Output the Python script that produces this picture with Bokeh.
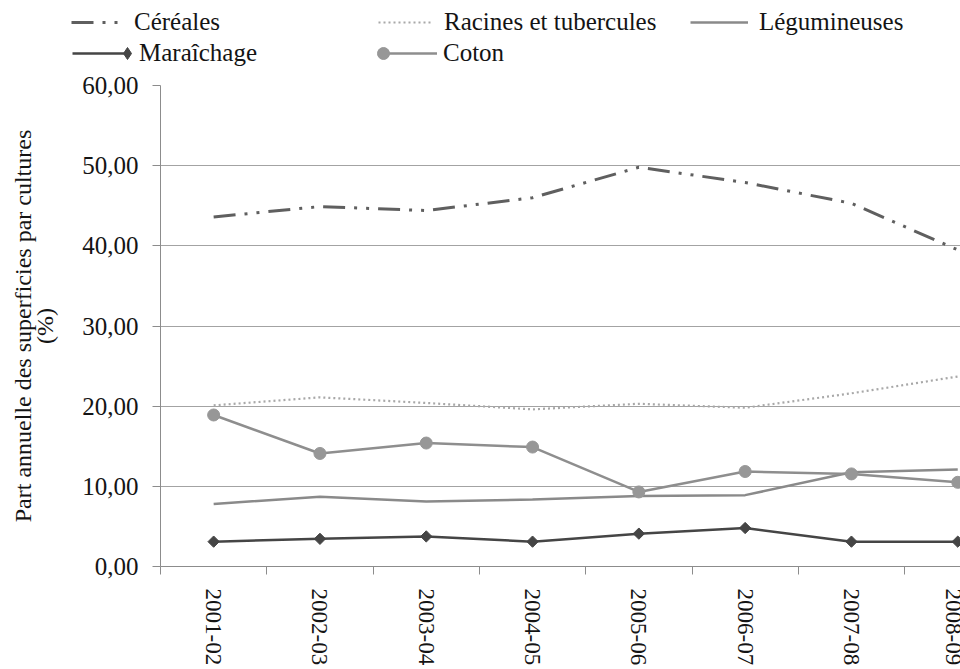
import math
from bokeh.plotting import figure
from bokeh.layouts import column, row
from bokeh.models import Range1d, FixedTicker, Legend, LegendItem
from bokeh.embed import file_html
from bokeh.resources import INLINE

# ---------------- data ----------------
campagnes = ["2001-02", "2002-03", "2003-04", "2004-05",
             "2005-06", "2006-07", "2007-08", "2008-09"]
cereales = [43.6, 44.9, 44.4, 46.0, 49.8, 47.9, 45.3, 39.5]
racines = [20.1, 21.1, 20.4, 19.6, 20.3, 19.8, 21.6, 23.7]
legumineuses = [7.8, 8.7, 8.1, 8.35, 8.8, 8.9, 11.75, 12.1]
maraichage = [3.1, 3.45, 3.75, 3.1, 4.1, 4.8, 3.1, 3.1]
coton = [18.9, 14.1, 15.4, 14.9, 9.3, 11.85, 11.55, 10.5]
y_ticks = [0, 10, 20, 30, 40, 50, 60]
y_tick_labels = ["0,00", "10,00", "20,00", "30,00", "40,00", "50,00", "60,00"]
y_title = "Part annuelle des superficies par cultures\n(%)"

FONT = "Liberation Serif"
TXT = "#141414"
W = 960
LEG_H = 70            # legend strip on top
H = 669 - LEG_H       # main chart
FRAME_L, FRAME_T, FRAME_B = 160, 15, 566 - LEG_H

c_cer, c_rac, c_leg, c_mar, c_cot = "#5f5f5f", "#a8a8a8", "#8a8a8a", "#454545", "#8e8e8e"
c_cot_m = "#979797"
st_cer = dict(line_color=c_cer, line_width=3, line_dash="22 9 3 9 3 9")
st_rac = dict(line_color=c_rac, line_width=2.2, line_dash="2 3")
st_leg = dict(line_color=c_leg, line_width=2.5)
st_mar = dict(line_color=c_mar, line_width=2.5)
st_cot = dict(line_color=c_cot, line_width=2.5)
st_cot_m = dict(marker="circle", size=12, fill_color=c_cot_m, line_color=c_cot_m)

n = len(campagnes)
xc = [i + 0.5 for i in range(n)]
cat_px = 106.3
x_end = (W - FRAME_L) / cat_px

# ---------------- main chart ----------------
p = figure(width=W, height=H, title=None,
           x_range=Range1d(0, x_end), y_range=Range1d(0, 60),
           output_backend="svg", toolbar_location=None,
           min_border_left=FRAME_L, min_border_top=FRAME_T,
           min_border_right=0, min_border_bottom=H - FRAME_B)
p.outline_line_color = None

p.xgrid.visible = False
p.ygrid.ticker = FixedTicker(ticks=y_ticks)
p.ygrid.grid_line_color = "#a3a3a3"
p.ygrid.grid_line_width = 1

yax = p.yaxis[0]
yax.ticker = FixedTicker(ticks=y_ticks)
yax.major_label_overrides = {t: l for t, l in zip(y_ticks, y_tick_labels)}
yax.axis_line_color = "#8c8c8c"
yax.major_tick_line_color = "#8c8c8c"
yax.major_tick_out = 8
yax.major_tick_in = 0
yax.minor_tick_line_color = None
yax.major_label_text_font = FONT
yax.major_label_text_font_size = "25px"
yax.major_label_text_color = TXT
yax.major_label_standoff = 14
yax.axis_label = y_title
yax.axis_label_text_font = FONT
yax.axis_label_text_font_size = "24px"
yax.axis_label_text_font_style = "normal"
yax.axis_label_text_color = TXT
yax.axis_label_text_line_height = 0.85
yax.axis_label_standoff = 21

xax = p.xaxis[0]
xax.ticker = FixedTicker(ticks=xc, minor_ticks=list(range(n)))
xax.major_label_overrides = {x: c for x, c in zip(xc, campagnes)}
xax.axis_line_color = "#8c8c8c"
xax.major_tick_line_color = None
xax.major_tick_out = 0
xax.major_tick_in = 0
xax.minor_tick_line_color = "#8c8c8c"
xax.minor_tick_out = 8
xax.minor_tick_in = 0
xax.major_label_orientation = "vertical"
xax.major_label_text_font = FONT
xax.major_label_text_font_size = "23px"
xax.major_label_text_color = TXT
xax.major_label_standoff = 14

p.line(xc, cereales, **st_cer)
p.line(xc, racines, **st_rac)
p.line(xc, legumineuses, **st_leg)
p.line(xc, maraichage, **st_mar)
p.scatter(xc, maraichage, marker="square", angle=math.pi / 4, size=8,
          fill_color=c_mar, line_color=c_mar)
p.line(xc, coton, **st_cot)
p.scatter(xc, coton, **st_cot_m)

# ---------------- legend strip ----------------
pl = figure(width=W, height=LEG_H, title=None,
            x_range=Range1d(0, 1), y_range=Range1d(0, 1),
            x_axis_location=None, y_axis_location=None,
            output_backend="svg", toolbar_location=None, min_border=0)
pl.outline_line_color = None
pl.xgrid.visible = False
pl.ygrid.visible = False

# key renderers (their data lie outside the strip's visible range)
kx, ky = [-5, -4], [-5, -4]
lr_cer = pl.line(kx, ky, **st_cer)
lr_rac = pl.line(kx, ky, **st_rac)
lr_leg = pl.line(kx, ky, **st_leg)
lr_mar = pl.line(kx, ky, **st_mar)
lr_mar_m = pl.scatter(kx, ky, marker="diamond", size=12,
                      fill_color=c_mar, line_color=c_mar)
lr_cot = pl.line(kx, ky, **st_cot)
lr_cot_m = pl.scatter(kx, ky, **st_cot_m)


def add_legend(label, renderers, x, yc, gw, standoff, h=30):
    leg = Legend(items=[LegendItem(label=label, renderers=renderers)],
                 location=(x, LEG_H - (yc + h / 2)),
                 orientation="vertical",
                 glyph_width=gw, glyph_height=h, label_height=h,
                 label_standoff=standoff, padding=0, margin=0, spacing=0,
                 border_line_color=None, background_fill_alpha=0,
                 label_text_font=FONT, label_text_font_size="25px",
                 label_text_color=TXT)
    pl.add_layout(leg)


ROW1, ROW2 = 22, 53
add_legend("Céréales", [lr_cer], 71, ROW1, 50, 13)
add_legend("Racines et tubercules", [lr_rac], 378, ROW1, 55, 11)
add_legend("Légumineuses", [lr_leg], 690, ROW1, 58, 11)
add_legend("Maraîchage", [lr_mar], 72, ROW2, 54, 13)
add_legend(" ", [lr_mar_m], 112, ROW2, 30, 0)
add_legend("Coton", [lr_cot], 383, ROW2, 54, 6)
add_legend(" ", [lr_cot_m], 368, ROW2, 30, 0)

open("out.html", "w").write(file_html(column(row(pl), row(p)), INLINE))
